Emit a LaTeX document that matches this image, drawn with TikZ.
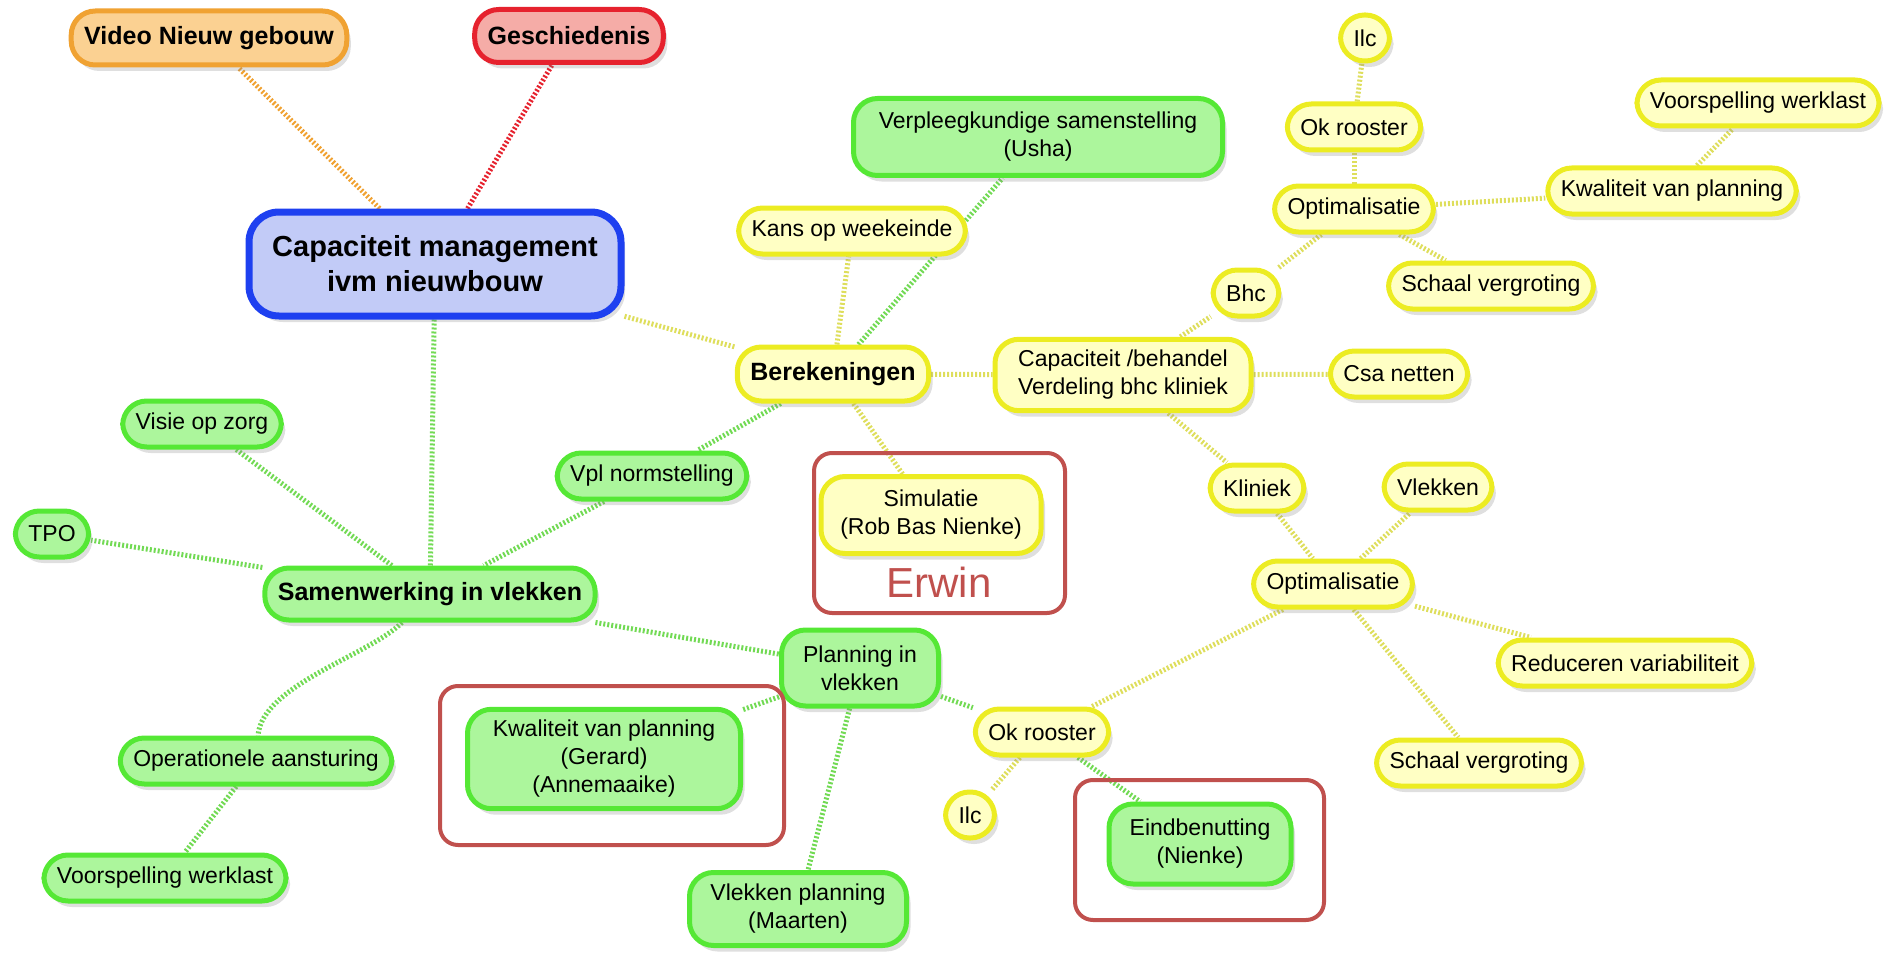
\documentclass[tikz,border=0pt]{standalone}
\usepackage{fontspec}
\setmainfont{Liberation Sans}
\usetikzlibrary{shadows,backgrounds}
\definecolor{geellijn}{HTML}{ECEC22}
\definecolor{geelvul}{HTML}{FFFFC4}
\definecolor{groenlijn}{HTML}{55E835}
\definecolor{groenvul}{HTML}{ACF69C}
\definecolor{blauwlijn}{HTML}{1E40F0}
\definecolor{blauwvul}{HTML}{C2CBF7}
\definecolor{oranjelijn}{HTML}{F0A232}
\definecolor{oranjevul}{HTML}{FBD192}
\definecolor{roodlijn}{HTML}{E6222E}
\definecolor{roodvul}{HTML}{F5ACA7}
\definecolor{kaderrood}{HTML}{C0504D}
\definecolor{geelpad}{HTML}{DEDE5C}
\definecolor{groenpad}{HTML}{72DA54}
\begin{document}
\begin{tikzpicture}[x=1pt,y=-1pt,
  knoop/.style={rectangle,rounded corners=24pt,line width=5pt,inner xsep=13pt,inner ysep=11pt,
    minimum height=46pt,align=center,font=\fontsize{23}{28}\selectfont,
    drop shadow={shadow xshift=4pt,shadow yshift=-6pt,opacity=0.25}},
  geel/.style={knoop,draw=geellijn,fill=geelvul},
  groen/.style={knoop,draw=groenlijn,fill=groenvul},
  vet/.style={font=\fontsize{25}{30}\selectfont\bfseries},
  lijn/.style={line width=5pt,dash pattern=on 2pt off 2pt},
  kader/.style={draw=kaderrood,line width=4pt,rounded corners=18pt}]
\useasboundingbox (0,0) rectangle (1904,955);

\node[knoop,draw=blauwlijn,fill=blauwvul,line width=7pt,minimum width=372pt,minimum height=104pt,
  rounded corners=30pt,font=\fontsize{29}{35}\selectfont\bfseries] (root) at (435,264) {Capaciteit management\\ivm nieuwbouw};
\node[knoop,vet,draw=oranjelijn,fill=oranjevul,minimum height=54pt] (video) at (209,38) {Video Nieuw gebouw};
\node[knoop,vet,draw=roodlijn,fill=roodvul,minimum height=53pt] (gesch) at (569,36) {Geschiedenis};

% berekeningen
\node[geel,vet,minimum height=54pt] (berek) at (833,374) {Berekeningen};
\node[geel] (kans) at (852,231) {Kans op weekeinde};
\node[groen,minimum width=369pt,minimum height=77pt] (verpl) at (1038,137) {Verpleegkundige samenstelling\\(Usha)};
\node[geel,minimum width=256pt,minimum height=71pt] (capac) at (1123,375) {Capaciteit /behandel\\Verdeling bhc kliniek};
\node[geel] (bhc) at (1246,293) {Bhc};
\node[geel] (opteen) at (1354,209) {Optimalisatie};
\node[geel] (okreen) at (1354,127) {Ok rooster};
\node[geel] (llceen) at (1365,38) {Ilc};
\node[geel] (kwaleen) at (1672,191) {Kwaliteit van planning};
\node[geel] (voorspeen) at (1758,103) {Voorspelling werklast};
\node[geel] (schaaleen) at (1491,286) {Schaal vergroting};
\node[geel] (csa) at (1399,374) {Csa netten};
\node[geel] (kliniek) at (1257,488) {Kliniek};
\node[geel] (vlek) at (1438,487) {Vlekken};
\node[geel] (opttwee) at (1333,584) {Optimalisatie};
\node[geel] (reduc) at (1625,663) {Reduceren variabiliteit};
\node[geel] (schaaltwee) at (1479,763) {Schaal vergroting};
\node[geel] (okrtwee) at (1042,732) {Ok rooster};
\node[geel] (llctwee) at (970,815) {Ilc};
\node[groen,minimum width=182pt,minimum height=80pt] (eind) at (1200,844) {Eindbenutting\\(Nienke)};
\node[geel,minimum width=220pt,minimum height=77pt] (simul) at (931,515) {Simulatie\\(Rob Bas Nienke)};
\node[text=kaderrood,font=\fontsize{42}{42}\selectfont] (erwin) at (939,582) {Erwin};

% samenwerking
\node[groen,vet,minimum height=52pt] (samen) at (430,594) {Samenwerking in vlekken};
\node[groen] (visie) at (202,424) {Visie op zorg};
\node[groen] (tpo) at (52,534) {TPO};
\node[groen] (vpl) at (652,476) {Vpl normstelling};
\node[groen,minimum width=157pt,minimum height=76pt] (plan) at (860,668) {Planning in\\vlekken};
\node[groen,minimum width=273pt,minimum height=98pt] (kwaltwee) at (604,759) {Kwaliteit van planning\\(Gerard)\\(Annemaaike)};
\node[groen,minimum width=217pt,minimum height=73pt] (vplan) at (798,909) {Vlekken planning\\(Maarten)};
\node[groen] (oper) at (256,761) {Operationele aansturing};
\node[groen] (voorsptwee) at (165,878) {Voorspelling werklast};

\draw[kader] (814,453) rectangle (1065,613);
\draw[kader] (440,686) rectangle (784,845);
\draw[kader] (1075,780) rectangle (1324,920);

\begin{scope}[on background layer]
\draw[lijn,oranjelijn] (root) -- (video);
\draw[lijn,roodlijn] (root) -- (gesch);
\draw[lijn,geelpad] (root) -- (berek);
\draw[lijn,groenpad] (root) -- (samen);
\draw[lijn,geelpad] (berek) -- (kans);
\draw[lijn,groenpad] (berek) -- (verpl);
\draw[lijn,geelpad] (berek) -- (capac);
\draw[lijn,geelpad] (berek) -- (simul);
\draw[lijn,groenpad] (berek) -- (vpl);
\draw[lijn,groenpad] (vpl) -- (samen);
\draw[lijn,geelpad] (capac) -- (bhc);
\draw[lijn,geelpad] (bhc) -- (opteen);
\draw[lijn,geelpad] (opteen) -- (okreen);
\draw[lijn,geelpad] (okreen) -- (llceen);
\draw[lijn,geelpad] (opteen) -- (kwaleen);
\draw[lijn,geelpad] (kwaleen) -- (voorspeen);
\draw[lijn,geelpad] (opteen) -- (schaaleen);
\draw[lijn,geelpad] (capac) -- (csa);
\draw[lijn,geelpad] (capac) -- (kliniek);
\draw[lijn,geelpad] (kliniek) -- (opttwee);
\draw[lijn,geelpad] (opttwee) -- (vlek);
\draw[lijn,geelpad] (opttwee) -- (reduc);
\draw[lijn,geelpad] (opttwee) -- (schaaltwee);
\draw[lijn,geelpad] (opttwee) -- (okrtwee);
\draw[lijn,geelpad] (okrtwee) -- (llctwee);
\draw[lijn,groenpad] (okrtwee) -- (eind);
\draw[lijn,groenpad] (plan) -- (okrtwee);
\draw[lijn,groenpad] (samen) -- (plan);
\draw[lijn,groenpad] (plan) -- (kwaltwee);
\draw[lijn,groenpad] (plan) -- (vplan);
\draw[lijn,groenpad] (samen) -- (visie);
\draw[lijn,groenpad] (samen) -- (tpo);
\draw[lijn,groenpad] (samen) .. controls (370,655) and (262,685) .. (oper);
\draw[lijn,groenpad] (oper) -- (voorsptwee);
\end{scope}
\end{tikzpicture}
\end{document}
